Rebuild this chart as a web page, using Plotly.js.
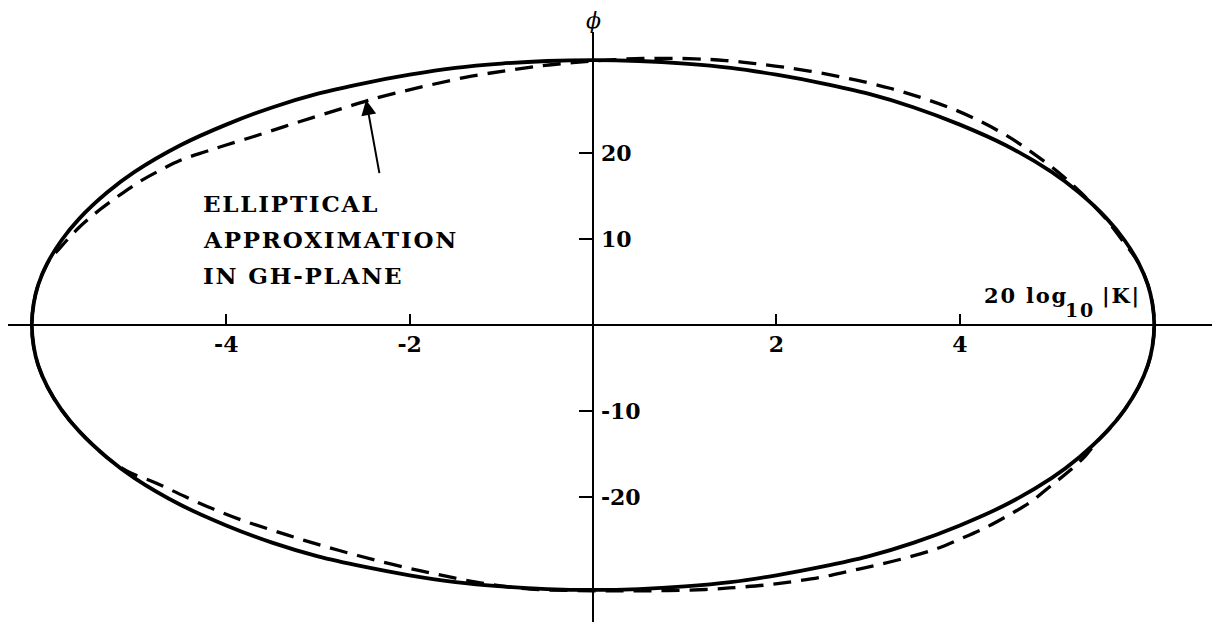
<!DOCTYPE html>
<html>
<head>
<meta charset="utf-8">
<script src="https://cdn.plot.ly/plotly-3.0.1.min.js"></script>
<style>
  html, body { margin: 0; padding: 0; background: #fff; }
  #chart { width: 1220px; height: 639px; }
  /* wide, typewriter-like spacing for the printed labels */
  .annotation-text { letter-spacing: 1.8px; }
</style>
</head>
<body>
<div id="chart"></div>
<script>
// Exact locus: upper half (left to right) and lower half (right to left)
const solidUpperX = [-6.12, -6.1, -6.05, -5.95, -5.8, -5.6, -5.3, -5.0, -4.5, -4.0, -3.5, -3.0, -2.5, -2.0, -1.5, -1.0, -0.5, 0, 0.5, 1.0, 1.5, 2.0, 2.5, 3.0, 3.5, 4.0, 4.5, 5.0, 5.3, 5.6, 5.8, 5.95, 6.05, 6.1, 6.12];
const solidUpperY = [0, 2.5, 4.7, 7.2, 9.8, 12.4, 15.4, 17.8, 20.9, 23.3, 25.3, 26.9, 28.1, 29.1, 29.9, 30.4, 30.7, 30.8, 30.7, 30.4, 29.9, 29.1, 28.1, 26.9, 25.3, 23.3, 20.9, 17.8, 15.4, 12.4, 9.8, 7.2, 4.7, 2.5, 0];
const solidLowerX = [6.1, 6.05, 5.95, 5.8, 5.6, 5.3, 5.0, 4.5, 4.0, 3.5, 3.0, 2.5, 2.0, 1.5, 1.0, 0.5, 0, -0.5, -1.0, -1.5, -2.0, -2.5, -3.0, -3.5, -4.0, -4.5, -5.0, -5.3, -5.6, -5.8, -5.95, -6.05, -6.1, -6.12];
const solidLowerY = [-2.5, -4.7, -7.2, -9.8, -12.4, -15.4, -17.8, -20.9, -23.3, -25.3, -26.9, -28.1, -29.1, -29.9, -30.4, -30.7, -30.8, -30.7, -30.4, -29.9, -29.1, -28.1, -26.9, -25.3, -23.3, -20.9, -17.8, -15.4, -12.4, -9.8, -7.2, -4.7, -2.5, 0];

// Elliptical approximation in the GH-plane, mapped back to gain/phase
const approxUpperX = [-6.12, -6.1, -6.05, -5.95, -5.81, -5.6, -5.38, -5.15, -4.94, -4.72, -4.50, -4.23, -4.01, -3.69, -3.36, -3.05, -2.73, -2.46, -2.14, -1.78, -1.34, -0.93, -0.56, -0.22, 0.15, 0.55, 1.11, 1.45, 1.77, 2.10, 2.48, 2.86, 3.25, 3.59, 3.93, 4.24, 4.53, 4.77, 5.08, 5.33, 5.58, 5.79, 5.95, 6.05, 6.1, 6.12];
const approxUpperY = [0, 2.5, 4.7, 7.2, 9.0, 11.4, 13.4, 15.2, 16.7, 18.0, 19.15, 20.15, 20.9, 21.95, 23.1, 24.15, 25.2, 26.1, 27.0, 27.9, 28.9, 29.6, 30.15, 30.5, 30.8, 31.0, 30.95, 30.75, 30.4, 29.95, 29.3, 28.5, 27.5, 26.4, 25.1, 23.6, 21.9, 20.2, 17.7, 15.3, 12.5, 9.6, 7.2, 4.7, 2.5, 0];
const approxLowerX = [6.1, 6.05, 5.95, 5.8, 5.64, 5.50, 5.37, 5.18, 4.98, 4.77, 4.55, 4.31, 4.02, 3.75, 3.44, 3.1, 2.80, 2.50, 2.20, 1.91, 1.58, 1.22, 0.62, 0, -0.69, -1.10, -1.42, -1.74, -2.04, -2.37, -2.67, -2.97, -3.25, -3.53, -3.84, -4.14, -4.45, -4.78, -5.08, -5.3, -5.6, -5.8, -5.95, -6.05, -6.1, -6.12];
const approxLowerY = [-2.5, -4.7, -7.2, -9.8, -12.0, -13.5, -15.2, -17.1, -18.8, -20.6, -22.0, -23.4, -24.8, -26.0, -27.0, -27.9, -28.6, -29.3, -29.8, -30.2, -30.5, -30.75, -30.9, -30.9, -30.7, -30.2, -29.6, -28.9, -28.2, -27.35, -26.5, -25.6, -24.7, -23.75, -22.65, -21.4, -19.95, -18.3, -17.0, -15.4, -12.4, -9.8, -7.2, -4.7, -2.5, 0];

// Axis ticks
const gainTicks = [-4, -2, 2, 4];
const gainTickText = ['-4', '-2', '2', '4'];
const phaseTicks = [20, 10, -10, -20];
const phaseTickText = ['20', '10', '-10', '-20'];

const W = 1220, H = 639;
const serif = 'DejaVu Serif, Liberation Serif, serif';

const traces = [
  {
    x: solidUpperX.concat(solidLowerX),
    y: solidUpperY.concat(solidLowerY),
    mode: 'lines',
    line: { color: '#000', width: 3.8, shape: 'spline', smoothing: 1 },
    hoverinfo: 'skip',
    showlegend: false
  },
  {
    x: approxUpperX.concat(approxLowerX),
    y: approxUpperY.concat(approxLowerY),
    mode: 'lines',
    line: { color: '#000', width: 3.3, dash: '18px,10px', shape: 'spline', smoothing: 1 },
    hoverinfo: 'skip',
    showlegend: false
  }
];

const labelFont = { family: serif, size: 23, color: '#000', weight: 'bold' };
const axisLabelFont = { family: serif, size: 21, color: '#000', weight: 'bold' };

const layout = {
  width: W,
  height: H,
  margin: { l: 0, r: 0, t: 0, b: 0 },
  paper_bgcolor: '#fff',
  plot_bgcolor: '#fff',
  showlegend: false,
  xaxis: {
    domain: [8 / W, 1212 / W],
    range: [-6.38, 6.75],
    anchor: 'free',
    position: (H - 325) / H,
    showline: true,
    linecolor: '#000',
    linewidth: 2,
    showgrid: false,
    zeroline: false,
    ticks: 'inside',
    ticklen: 10,
    tickwidth: 2,
    tickcolor: '#000',
    tickvals: gainTicks,
    ticktext: gainTickText,
    tickfont: { family: serif, size: 22, color: '#000', weight: 'bold' },
    fixedrange: true
  },
  yaxis: {
    domain: [(H - 622) / H, (H - 32) / H],
    range: [-34.53, 34.07],
    anchor: 'free',
    side: 'right',
    position: 592.5 / W,
    showline: true,
    linecolor: '#000',
    linewidth: 2,
    showgrid: false,
    zeroline: false,
    ticks: 'inside',
    ticklen: 13,
    tickwidth: 2,
    tickcolor: '#000',
    tickvals: phaseTicks,
    ticktext: phaseTickText,
    ticklabelstandoff: 3,
    tickfont: { family: serif, size: 22, color: '#000', weight: 'bold' },
    fixedrange: true
  },
  annotations: [
    {
      xref: 'paper', yref: 'paper', x: 594 / W, y: (H - 20) / H,
      text: '<i>ϕ</i>', showarrow: false,
      font: { family: serif, size: 22, color: '#000' },
      xanchor: 'center', yanchor: 'middle'
    },
    // gain axis label: 20 log10 |K|, with a large, well-dropped subscript
    {
      xref: 'x', yref: 'y', x: 4.24, y: 3.43,
      text: '20 log', showarrow: false, font: axisLabelFont,
      xanchor: 'left', yanchor: 'middle'
    },
    {
      xref: 'x', yref: 'y', x: 5.12, y: 1.74,
      text: '10', showarrow: false,
      font: { family: serif, size: 19, color: '#000', weight: 'bold' },
      xanchor: 'left', yanchor: 'middle'
    },
    {
      xref: 'x', yref: 'y', x: 5.53, y: 3.43,
      text: '|K|', showarrow: false, font: axisLabelFont,
      xanchor: 'left', yanchor: 'middle'
    },
    {
      xref: 'x', yref: 'y', x: -4.27, y: 14.13,
      text: 'ELLIPTICAL', showarrow: false, font: labelFont,
      xanchor: 'left', yanchor: 'middle'
    },
    {
      xref: 'x', yref: 'y', x: -4.27, y: 9.9,
      text: 'APPROXIMATION', showarrow: false, font: labelFont,
      xanchor: 'left', yanchor: 'middle'
    },
    {
      xref: 'x', yref: 'y', x: -4.27, y: 5.8,
      text: 'IN GH-PLANE', showarrow: false, font: labelFont,
      xanchor: 'left', yanchor: 'middle'
    },
    {
      xref: 'x', yref: 'y', x: -2.475, y: 26.16,
      axref: 'x', ayref: 'y', ax: -2.31, ay: 16.5,
      text: ' ', showarrow: true,
      arrowhead: 2, arrowsize: 1.5, arrowwidth: 2, arrowcolor: '#000'
    }
  ]
};

Plotly.newPlot('chart', traces, layout, { staticPlot: true, displayModeBar: false });
</script>
</body>
</html>
